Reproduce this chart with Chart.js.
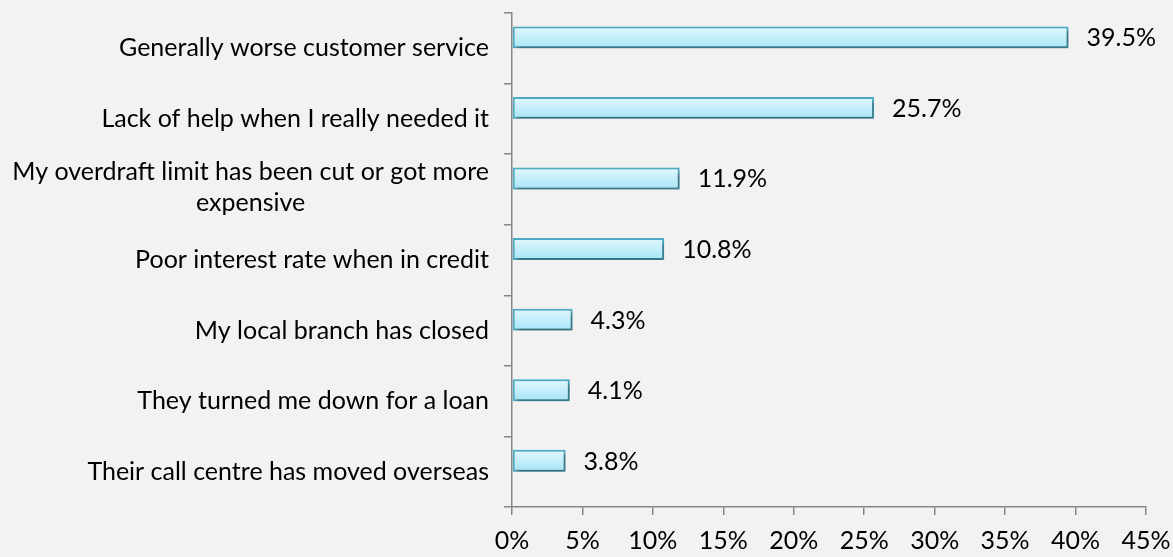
<!DOCTYPE html>
<html>
<head>
<meta charset="utf-8">
<script src="https://cdn.jsdelivr.net/npm/chart.js@4.4.1/dist/chart.umd.min.js"></script>
<style>
  html, body { margin: 0; padding: 0; background: #f2f2f2; }
  #wrap { width: 1173px; height: 557px; position: relative; }
</style>
</head>
<body>
<div id="wrap"><canvas id="reasonsChart"></canvas></div>
<script>
const categories = [
  'Generally worse customer service',
  'Lack of help when I really needed it',
  ['My overdraft limit has been cut or got more', 'expensive'],
  'Poor interest rate when in credit',
  'My local branch has closed',
  'They turned me down for a loan',
  'Their call centre has moved overseas'
];
const shares = [39.5, 25.7, 11.9, 10.8, 4.3, 4.1, 3.8];
const emptySeries = [null, null, null, null, null, null, null];
const axisMax = 45;
const axisStep = 5;

const FONT = 'Lato, "Open Sans", sans-serif';
const LABEL_SIZE = 25;
const AXIS_GREY = '#868686';

// shadow + vertical gradient on each bar
const barStyle = {
  id: 'barStyle',
  beforeDatasetDraw(chart, args) {
    if (args.index !== 0) return;
    const ctx = chart.ctx;
    ctx.save();
    ctx.shadowColor = 'rgba(0,0,0,0.38)';
    ctx.shadowBlur = 4;
    ctx.shadowOffsetX = 2;
    ctx.shadowOffsetY = 3;
    args.meta.data.forEach(el => {
      const top = el.y - el.height / 2;
      const g = ctx.createLinearGradient(0, top, 0, top + el.height);
      g.addColorStop(0, '#e2f8fe');
      g.addColorStop(1, '#a6e5f7');
      el.options = Object.assign({}, el.options, { backgroundColor: g });
    });
  },
  afterDatasetDraw(chart, args) {
    if (args.index !== 0) return;
    chart.ctx.restore();
  }
};

// value labels to the right of the bars, category labels on the left
const textLayer = {
  id: 'textLayer',
  afterDraw(chart) {
    const ctx = chart.ctx;
    const x = chart.scales.x;
    const y = chart.scales.y;
    ctx.save();
    ctx.fillStyle = '#000';
    ctx.font = LABEL_SIZE + 'px ' + FONT;
    ctx.textBaseline = 'alphabetic';

    ctx.textAlign = 'left';
    chart.getDatasetMeta(0).data.forEach((el, i) => {
      ctx.fillText(shares[i].toFixed(1) + '%', x.getPixelForValue(shares[i]) + 18, el.y + 9);
    });

    const right = y.right - 23;
    categories.forEach((lab, i) => {
      const lines = Array.isArray(lab) ? lab : [lab];
      const widest = Math.max(...lines.map(l => ctx.measureText(l).width));
      const cy = y.getPixelForTick(i);
      ctx.textAlign = 'center';
      lines.forEach((line, k) => {
        const base = cy + 8 + (k - (lines.length - 1) / 2) * 31 - (lines.length > 1 ? 1.5 : 0);
        ctx.fillText(line, right - widest / 2, base);
      });
    });
    ctx.restore();
  }
};

const chart = new Chart(document.getElementById('reasonsChart'), {
  type: 'bar',
  data: {
    labels: categories,
    datasets: [{
      data: shares,
      backgroundColor: '#c8f1fb',
      borderColor: '#4bacc6',
      borderWidth: 2,
      borderSkipped: false,
      categoryPercentage: 0.62,
      barPercentage: 1
    }, {
      data: emptySeries,
      categoryPercentage: 0.62,
      barPercentage: 1
    }]
  },
  options: {
    indexAxis: 'y',
    responsive: true,
    maintainAspectRatio: false,
    animation: false,
    layout: { padding: { top: 13, right: 27, bottom: 0, left: 0 } },
    plugins: {
      legend: { display: false },
      tooltip: { enabled: false }
    },
    scales: {
      x: {
        min: 0,
        max: axisMax,
        afterFit(scale) {
          scale.height = 50;
          scale.paddingLeft = 0;
          scale.paddingRight = 0;
        },
        border: { color: AXIS_GREY, width: 1.5 },
        grid: { drawOnChartArea: false, tickLength: 8, color: AXIS_GREY, lineWidth: 1.5 },
        ticks: {
          stepSize: axisStep,
          padding: 11,
          color: '#000',
          font: { family: FONT, size: LABEL_SIZE },
          callback: v => v + '%'
        }
      },
      y: {
        afterFit(scale) {
          scale.width = 512;
          scale.paddingTop = 0;
          scale.paddingBottom = 0;
        },
        border: { color: AXIS_GREY, width: 1.5 },
        grid: { drawOnChartArea: false, tickLength: 8, color: AXIS_GREY, lineWidth: 1.5 },
        ticks: {
          color: 'transparent',
          font: { family: FONT, size: LABEL_SIZE }
        }
      }
    }
  },
  plugins: [barStyle, textLayer]
});
</script>
</body>
</html>
